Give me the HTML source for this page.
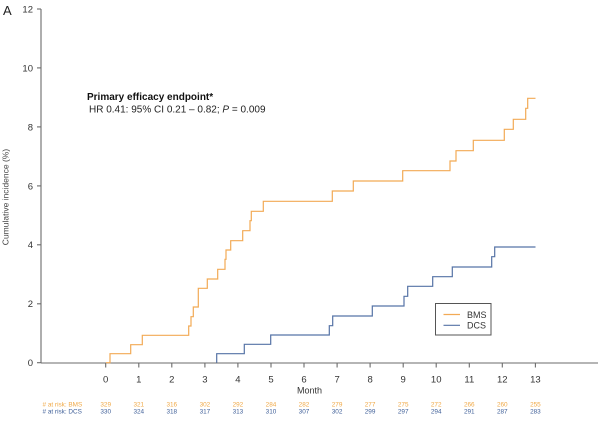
<!DOCTYPE html>
<html><head><meta charset="utf-8"><style>
html,body{margin:0;padding:0;background:#fff;}
svg{display:block;font-family:"Liberation Sans",Arial,sans-serif;}
</style></head><body>
<svg width="600" height="433" viewBox="0 0 600 433" xmlns="http://www.w3.org/2000/svg">
<rect width="600" height="433" fill="#fff"/>
<text x="3" y="15" font-size="13" fill="#222">A</text>
<!-- axes -->
<g stroke="#6b6b6b" stroke-width="1.1" fill="none">
<line x1="41" y1="9" x2="41" y2="363"/>
<line x1="41" y1="363" x2="598" y2="363"/>
<line x1="37" y1="9" x2="41" y2="9"/>
<line x1="37" y1="67.9" x2="41" y2="67.9"/>
<line x1="37" y1="126.9" x2="41" y2="126.9"/>
<line x1="37" y1="185.9" x2="41" y2="185.9"/>
<line x1="37" y1="244.8" x2="41" y2="244.8"/>
<line x1="37" y1="303.8" x2="41" y2="303.8"/>
<line x1="37" y1="362.7" x2="41" y2="362.7"/>
<line x1="105.7" y1="363" x2="105.7" y2="367.5"/>
<line x1="138.8" y1="363" x2="138.8" y2="367.5"/>
<line x1="171.8" y1="363" x2="171.8" y2="367.5"/>
<line x1="204.9" y1="363" x2="204.9" y2="367.5"/>
<line x1="237.9" y1="363" x2="237.9" y2="367.5"/>
<line x1="271" y1="363" x2="271" y2="367.5"/>
<line x1="304" y1="363" x2="304" y2="367.5"/>
<line x1="337.1" y1="363" x2="337.1" y2="367.5"/>
<line x1="370.1" y1="363" x2="370.1" y2="367.5"/>
<line x1="403.2" y1="363" x2="403.2" y2="367.5"/>
<line x1="436.2" y1="363" x2="436.2" y2="367.5"/>
<line x1="469.3" y1="363" x2="469.3" y2="367.5"/>
<line x1="502.3" y1="363" x2="502.3" y2="367.5"/>
<line x1="535.4" y1="363" x2="535.4" y2="367.5"/>
</g>
<!-- y tick labels -->
<g font-size="9.5" fill="#333" text-anchor="end">
<text x="33" y="12.4">12</text>
<text x="33" y="71.3">10</text>
<text x="33" y="130.3">8</text>
<text x="33" y="189.3">6</text>
<text x="33" y="248.2">4</text>
<text x="33" y="307.2">2</text>
<text x="33" y="366.1">0</text>
</g>
<text transform="translate(8.5,197) rotate(-90)" font-size="8.5" fill="#444" text-anchor="middle">Cumulative incidence (%)</text>
<!-- x tick labels -->
<g font-size="9.5" fill="#333" text-anchor="middle">
<text x="105.7" y="382.5">0</text>
<text x="138.8" y="382.5">1</text>
<text x="171.8" y="382.5">2</text>
<text x="204.9" y="382.5">3</text>
<text x="237.9" y="382.5">4</text>
<text x="271" y="382.5">5</text>
<text x="304" y="382.5">6</text>
<text x="337.1" y="382.5">7</text>
<text x="370.1" y="382.5">8</text>
<text x="403.2" y="382.5">9</text>
<text x="436.2" y="382.5">10</text>
<text x="469.3" y="382.5">11</text>
<text x="502.3" y="382.5">12</text>
<text x="535.4" y="382.5">13</text>
<text x="309.5" y="393.5" font-size="9">Month</text>
</g>
<!-- at risk -->
<g font-size="6.4" fill="#F0A845" text-anchor="middle">
<text x="42.5" y="406.5" text-anchor="start">#  at risk: BMS</text>
<text x="105.7" y="406.5">329</text>
<text x="138.8" y="406.5">321</text>
<text x="171.8" y="406.5">316</text>
<text x="204.9" y="406.5">302</text>
<text x="237.9" y="406.5">292</text>
<text x="271" y="406.5">284</text>
<text x="304" y="406.5">282</text>
<text x="337.1" y="406.5">279</text>
<text x="370.1" y="406.5">277</text>
<text x="403.2" y="406.5">275</text>
<text x="436.2" y="406.5">272</text>
<text x="469.3" y="406.5">266</text>
<text x="502.3" y="406.5">260</text>
<text x="535.4" y="406.5">255</text>
</g>
<g font-size="6.4" fill="#3F5F98" text-anchor="middle">
<text x="42.5" y="413.7" text-anchor="start">#  at risk: DCS</text>
<text x="105.7" y="413.7">330</text>
<text x="138.8" y="413.7">324</text>
<text x="171.8" y="413.7">318</text>
<text x="204.9" y="413.7">317</text>
<text x="237.9" y="413.7">313</text>
<text x="271" y="413.7">310</text>
<text x="304" y="413.7">307</text>
<text x="337.1" y="413.7">302</text>
<text x="370.1" y="413.7">299</text>
<text x="403.2" y="413.7">297</text>
<text x="436.2" y="413.7">294</text>
<text x="469.3" y="413.7">291</text>
<text x="502.3" y="413.7">287</text>
<text x="535.4" y="413.7">283</text>
</g>
<!-- series -->
<path d="M106,362.7 H110 V353.7 H130.7 V344.7 H142.3 V335.3 H188.7 V326 H191 V316.7 H193.3 V307 H198.3 V288.3 H207.3 V279 H217.7 V269.3 H225 V259.3 H226 V250 H230.7 V240.7 H242.7 V230.7 H250 V220.7 H251.3 V211.3 H263.3 V201.3 H332.3 V191 H353.3 V181 H402.7 V170.7 H450 V161 H456 V150.7 H473.3 V140.3 H504.3 V129.3 H513.3 V119.3 H525.7 V108.3 H527.7 V98.3 H535.5" fill="none" stroke="#F2AA55" stroke-width="1.2"/>
<path d="M216.7,362.7 V353.7 H244.3 V344.3 H270.7 V335 H329.3 V325.7 H332.7 V316 H372.3 V306 H404 V296.3 H407.7 V286.3 H432.7 V276.7 H452.3 V267 H491.7 V256.7 H494.7 V247 H535.5" fill="none" stroke="#5673A6" stroke-width="1.2"/>
<!-- annotation -->
<text x="87" y="100" font-size="10" font-weight="bold" fill="#111">Primary efficacy endpoint*</text>
<text x="89" y="112.5" font-size="10" fill="#222">HR 0.41: 95% CI 0.21 – 0.82; <tspan font-style="italic">P</tspan> = 0.009</text>
<!-- legend -->
<rect x="435.5" y="303.5" width="55.5" height="31.5" fill="#fff" stroke="#555" stroke-width="1"/>
<line x1="443.5" y1="314.5" x2="460" y2="314.5" stroke="#F2AA55" stroke-width="1.2"/>
<line x1="443.5" y1="325.3" x2="460" y2="325.3" stroke="#5673A6" stroke-width="1.2"/>
<text x="467" y="317.8" font-size="9" fill="#333">BMS</text>
<text x="467" y="328.6" font-size="9" fill="#333">DCS</text>
</svg>
</body></html>
